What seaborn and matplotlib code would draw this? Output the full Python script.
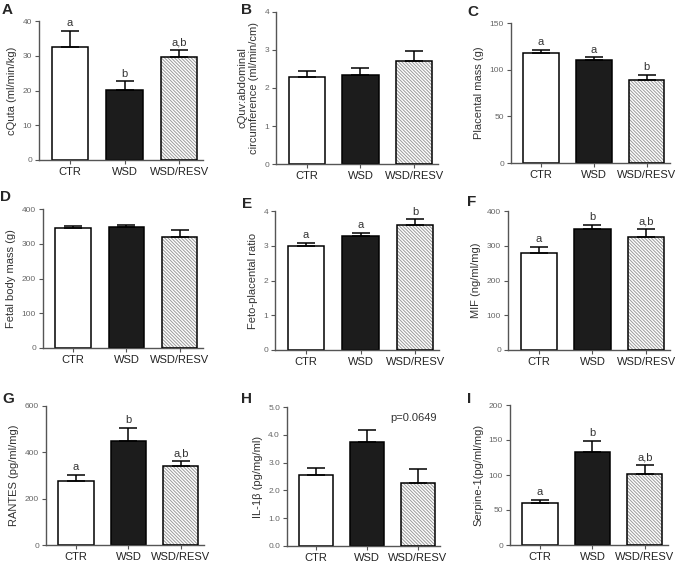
import numpy as np
import matplotlib
matplotlib.use("Agg")
import matplotlib.pyplot as plt
import seaborn as sns
from matplotlib.patches import Rectangle
from matplotlib.ticker import FormatStrFormatter

# groups and bar styles
groups = ["CTR", "WSD", "WSD/RESV"]
bar_colors = ["white", "#1c1c1c", "white"]

# values (mean, upper SEM)
cquta_mean = [32.6, 20.1, 29.5]
cquta_sem = [4.5, 2.5, 2.1]
cquta_sig = ["a", "b", "a,b"]

cquv_mean = [2.30, 2.34, 2.70]
cquv_sem = [0.14, 0.18, 0.28]

placenta_mean = [117.9, 110.0, 88.9]
placenta_sem = [2.9, 3.2, 5.7]
placenta_sig = ["a", "a", "b"]

fetal_mean = [346, 349, 318]
fetal_sem = [5, 6, 22]

ratio_mean = [2.99, 3.27, 3.60]
ratio_sem = [0.10, 0.11, 0.16]
ratio_sig = ["a", "a", "b"]

mif_mean = [280, 347, 325]
mif_sem = [17, 13, 23]
mif_sig = ["a", "b", "a,b"]

rantes_mean = [278, 449, 340]
rantes_sem = [25, 55, 22]
rantes_sig = ["a", "b", "a,b"]

il1b_mean = [2.54, 3.73, 2.27]
il1b_sem = [0.28, 0.44, 0.51]

serpine_mean = [59.8, 133.5, 101.0]
serpine_sem = [5.2, 14.8, 13.0]
serpine_sig = ["a", "b", "a,b"]

panels = [
    ("A", "cQuta (ml/min/kg)", cquta_mean, cquta_sem, cquta_sig, [0, 10, 20, 30, 40], None),
    ("B", "cQuv:abdominal\ncircumference (ml/min/cm)", cquv_mean, cquv_sem, None, [0, 1, 2, 3, 4], None),
    ("C", "Placental mass (g)", placenta_mean, placenta_sem, placenta_sig, [0, 50, 100, 150], None),
    ("D", "Fetal body mass (g)", fetal_mean, fetal_sem, None, [0, 100, 200, 300, 400], None),
    ("E", "Feto-placental ratio", ratio_mean, ratio_sem, ratio_sig, [0, 1, 2, 3, 4], None),
    ("F", "MIF (ng/ml/mg)", mif_mean, mif_sem, mif_sig, [0, 100, 200, 300, 400], None),
    ("G", "RANTES (pg/ml/mg)", rantes_mean, rantes_sem, rantes_sig, [0, 200, 400, 600], None),
    ("H", "IL-1β (pg/mg/ml)", il1b_mean, il1b_sem, None, [0, 1, 2, 3, 4, 5], "%.1f"),
    ("I", "Serpine-1(pg/ml/mg)", serpine_mean, serpine_sem, serpine_sig, [0, 50, 100, 150, 200], None),
]

W, H = 675, 565
# axes boxes in pixels: left, top, right, bottom
boxes = [
    (39, 21, 203, 160), (276, 12, 438, 164), (511, 23, 670, 163),
    (43, 209, 203, 348), (275, 211, 439, 350), (508, 211, 670, 350),
    (46, 406, 204, 545), (287, 407, 440, 546), (510, 405, 668, 545),
]
letter_pos = [(2, 3), (241, 3), (467, 5), (0, 190), (242, 197), (467, 195),
              (2, 392), (241, 392), (467, 392)]

sns.set_style("ticks")
plt.rcParams["font.family"] = ["Liberation Sans", "DejaVu Sans"]
plt.rcParams["hatch.linewidth"] = 0.7

fig = plt.figure(figsize=(W / 100, H / 100), dpi=100)

for (letter, ylabel, mean, sem, sig, yticks, fmt), box, lp in zip(panels, boxes, letter_pos):
    l, t, r, b = box
    ax = fig.add_axes([l / W, 1 - b / H, (r - l) / W, (b - t) / H])

    sns.barplot(x=groups, y=mean, hue=groups, palette=bar_colors, legend=False,
                width=0.67, edgecolor="black", linewidth=1.1, saturation=1,
                ax=ax, zorder=2)

    # hatched third bar: gray hatch, black outline
    p = ax.patches[2]
    p.set_hatch("\\" * 10)
    p.set_edgecolor("#9a9a9a")
    p.set_linewidth(0)
    ax.add_patch(Rectangle(p.get_xy(), p.get_width(), p.get_height(),
                           fill=False, edgecolor="black", linewidth=1.1, zorder=3))

    x = np.arange(len(groups))
    ax.errorbar(x, mean, yerr=[np.zeros(len(mean)), sem], fmt="none",
                ecolor="black", elinewidth=1.1, capsize=6.5, capthick=1.1, zorder=4)

    if sig:
        for i, s in enumerate(sig):
            ax.annotate(s, (i, mean[i] + sem[i]), xytext=(0, 2),
                        textcoords="offset points", ha="center", va="bottom",
                        fontsize=8, color="#333333")

    ax.set_xlim(-0.57, 2.44)
    ax.set_ylim(yticks[0], yticks[-1])
    ax.set_yticks(yticks)
    if fmt:
        ax.yaxis.set_major_formatter(FormatStrFormatter(fmt))
    ax.set_xlabel("")
    ax.set_ylabel(ylabel, fontsize=8, color="#333333", labelpad=4)
    ax.tick_params(axis="y", labelsize=6, labelcolor="#666666", length=3,
                   width=0.8, color="#555555", pad=2)
    ax.tick_params(axis="x", labelsize=8, labelcolor="#222222", length=3,
                   width=0.8, color="#555555", pad=2)
    sns.despine(ax=ax)
    for side in ("left", "bottom"):
        ax.spines[side].set_color("#555555")
        ax.spines[side].set_linewidth(1.0)

    if letter == "H":
        ax.text(0.98, 0.92, "p=0.0649", transform=ax.transAxes,
                ha="right", va="center", fontsize=8, color="#333333")

    fig.text(lp[0] / W, 1 - lp[1] / H, letter, ha="left", va="top",
             fontsize=11, fontweight="bold")

fig.savefig("out.png", dpi=100)
